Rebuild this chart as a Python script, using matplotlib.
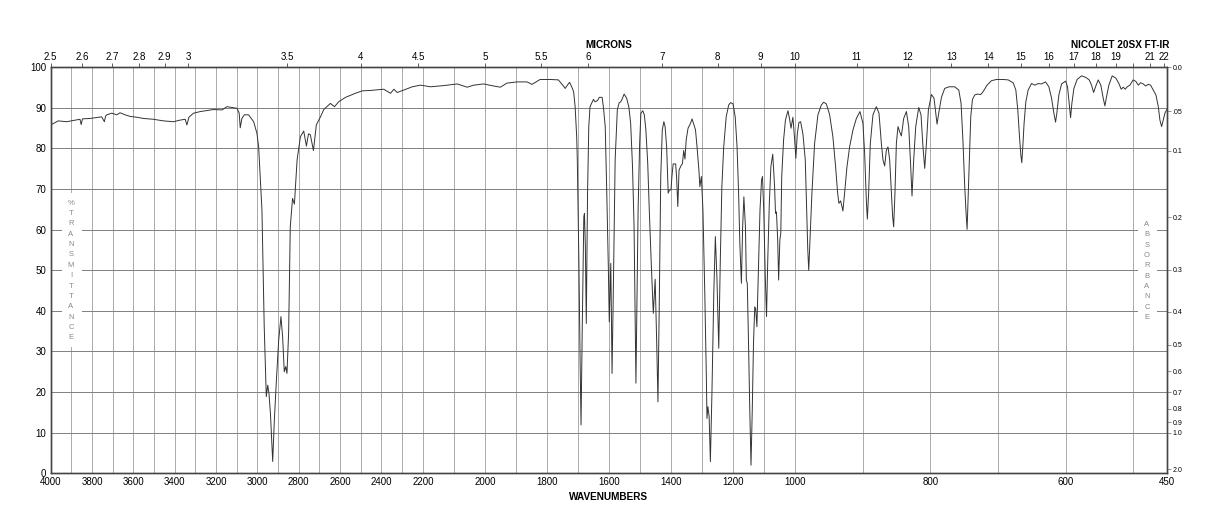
import numpy as np
import matplotlib.pyplot as plt
from matplotlib.patches import Rectangle

plt.rcParams['font.family'] = ['Liberation Sans', 'DejaVu Sans']

# spectrum (cm-1, %T)
wavenumber = [
    4000, 3963, 3922, 3890, 3858, 3852, 3846, 3809, 3753, 3740, 3734, 3728,
    3704, 3680, 3664, 3640, 3615, 3583, 3551, 3503, 3454, 3406, 3373, 3349,
    3341, 3331, 3309, 3276, 3212, 3171, 3147, 3099, 3088, 3083, 3075, 3063,
    3043, 3018, 3002, 2994, 2978, 2967, 2957, 2950, 2944, 2937, 2926, 2918,
    2908, 2897, 2886, 2878, 2870, 2863, 2857, 2849, 2841, 2830, 2821, 2808,
    2792, 2776, 2763, 2753, 2744, 2729, 2715, 2695, 2679, 2647, 2627, 2607,
    2574, 2550, 2526, 2493, 2453, 2389, 2356, 2340, 2324, 2292, 2251, 2211,
    2175, 2132, 2089, 2057, 2036, 2004, 1972, 1950, 1929, 1897, 1864, 1848,
    1822, 1789, 1763, 1749, 1741, 1734, 1727, 1720, 1714, 1709, 1704, 1702,
    1697, 1693, 1690, 1686, 1681, 1679, 1676, 1673, 1669, 1665, 1661, 1655,
    1650, 1645, 1637, 1631, 1622, 1618, 1612, 1607, 1602, 1599, 1594, 1590,
    1586, 1580, 1573, 1567, 1562, 1558, 1551, 1543, 1536, 1530, 1524, 1519,
    1515, 1513, 1510, 1506, 1501, 1497, 1491, 1486, 1481, 1475, 1470, 1464,
    1457, 1451, 1446, 1442, 1438, 1433, 1428, 1423, 1419, 1414, 1409, 1405,
    1400, 1397, 1393, 1385, 1382, 1378, 1374, 1368, 1363, 1359, 1355, 1351,
    1345, 1337, 1332, 1326, 1321, 1316, 1310, 1307, 1302, 1297, 1291, 1286,
    1284, 1281, 1277, 1273, 1268, 1262, 1257, 1252, 1246, 1241, 1236, 1230,
    1222, 1214, 1208, 1200, 1193, 1187, 1182, 1178, 1173, 1169, 1165, 1160,
    1157, 1154, 1150, 1146, 1142, 1138, 1134, 1130, 1127, 1123, 1118, 1113,
    1108, 1105, 1101, 1096, 1092, 1088, 1083, 1078, 1072, 1066, 1063, 1060,
    1056, 1053, 1049, 1046, 1043, 1037, 1031, 1023, 1018, 1013, 1007, 1002,
    998.8, 996.7, 994.3, 991.8, 988.4, 984.9, 982.8, 981.2, 979.8, 977.5,
    975.1, 971.1, 966.2, 961.2, 957.8, 953.8, 948.9, 944.1, 940.1, 937.1,
    935.2, 932.7, 930.7, 929.3, 926.8, 923.3, 919.4, 914.4, 909.4, 904.1,
    899.7, 897.2, 894.7, 893.2, 891.3, 888.8, 884.9, 879.9, 876.0, 872.5,
    870.1, 867.6, 865.1, 862.7, 860.2, 857.7, 855.8, 854.3, 852.4, 850.3,
    847.9, 845.4, 842.9, 839.5, 835.5, 832.1, 829.6, 827.2, 824.7, 821.7,
    817.3, 813.9, 811.0, 808.4, 805.9, 803.0, 798.5, 794.7, 792.1, 790.2,
    787.7, 783.7, 778.9, 772.5, 764.1, 758.1, 754.7, 751.8, 749.3, 747.3,
    745.8, 744.4, 742.3, 740.4, 737.9, 734.4, 730.5, 725.6, 722.2, 716.3,
    709.8, 702.4, 692.6, 685.2, 677.8, 673.8, 670.9, 668.4, 666.4, 665.0,
    663.5, 661.6, 659.0, 655.6, 650.6, 645.7, 640.8, 635.8, 629.9, 625.0,
    621.0, 617.6, 615.1, 613.2, 610.2, 606.2, 600.3, 597.4, 595.0, 592.9,
    591.0, 588.0, 583.2, 576.7, 570.3, 565.4, 561.9, 558.9, 556.0, 552.1,
    548.2, 544.7, 542.2, 539.7, 536.3, 531.4, 525.9, 521.5, 518.1, 515.1,
    512.2, 509.2, 505.3, 500.4, 496.3, 492.9, 489.4, 485.5, 482.0, 478.2,
    474.7, 470.8, 466.8, 463.3, 460.9, 458.4, 456.0, 453.5, 451.0, 450,
]
transmittance = [
    85.8, 86.8, 86.6, 86.9, 87.2, 85.9, 87.3, 87.4, 87.8, 86.6, 88.0, 88.3,
    88.7, 88.3, 88.8, 88.3, 87.9, 87.7, 87.4, 87.2, 86.8, 86.6, 87.0, 87.2,
    85.8, 87.7, 88.7, 89.1, 89.6, 89.5, 90.3, 89.9, 88.7, 85.1, 87.4, 88.3,
    88.3, 86.6, 83.7, 80.4, 64.9, 36.1, 18.9, 21.7, 19.7, 14.8, 2.9, 13.1,
    23.0, 32.8, 38.6, 33.6, 25.0, 26.3, 24.6, 34.5, 60.7, 67.7, 66.3, 77.2,
    82.9, 84.3, 80.6, 83.6, 83.4, 79.5, 85.8, 87.8, 89.6, 91.1, 90.3, 91.5,
    92.6, 93.1, 93.6, 94.2, 94.3, 94.6, 93.6, 94.6, 93.8, 94.4, 95.2, 95.6,
    95.2, 95.5, 95.9, 95.1, 95.6, 95.9, 95.4, 95.1, 96.1, 96.4, 96.4, 95.8,
    97.0, 97.0, 96.9, 95.6, 94.8, 95.6, 96.3, 95.2, 94.0, 90.3, 82.9, 77.2,
    52.5, 27.9, 11.9, 36.1, 63.2, 64.0, 55.8, 36.9, 69.0, 85.4, 90.3, 91.3,
    92.1, 91.5, 91.8, 92.6, 92.6, 90.3, 85.4, 69.0, 50.9, 37.3, 51.7, 24.6,
    44.3, 77.2, 89.5, 91.3, 91.5, 92.1, 93.4, 92.4, 90.3, 86.2, 75.5, 60.7,
    36.1, 22.2, 40.2, 64.9, 81.3, 88.7, 89.3, 88.3, 84.6, 76.4, 64.9, 52.5,
    39.4, 47.8, 32.0, 17.6, 40.2, 73.1, 84.6, 86.6, 85.4, 80.4, 69.0, 69.8,
    69.8, 73.1, 76.2, 76.2, 73.1, 65.7, 74.7, 75.7, 76.3, 79.5, 77.4, 82.1,
    85.0, 86.2, 87.3, 85.8, 84.6, 80.4, 74.7, 70.6, 73.1, 64.9, 44.3, 23.8,
    13.5, 16.4, 14.0, 2.9, 19.7, 44.3, 58.3, 48.4, 30.8, 52.5, 70.6, 80.4,
    87.8, 90.7, 91.3, 91.0, 87.8, 80.4, 69.0, 56.6, 46.8, 60.7, 68.1, 60.7,
    47.6, 46.8, 32.0, 15.6, 2.0, 15.6, 32.0, 41.0, 40.6, 36.1, 50.9, 64.9,
    72.2, 73.1, 64.9, 48.4, 38.6, 52.5, 66.5, 75.5, 78.6, 70.6, 64.0, 64.4,
    57.5, 47.6, 57.5, 59.1, 73.1, 82.1, 87.0, 89.3, 87.4, 85.0, 87.7, 82.9,
    77.6, 83.6, 86.4, 86.6, 83.6, 77.2, 64.9, 55.0, 50.0, 59.1,
    69.0, 81.3, 88.3, 90.7, 91.4, 91.0, 88.3, 82.9, 75.5, 69.0,
    66.5, 67.1, 65.7, 64.6, 69.0, 75.5, 80.4, 84.6, 87.4, 89.1,
    86.2, 78.8, 67.3, 62.6, 69.0, 81.3, 88.3, 90.3, 88.7, 81.3,
    77.2, 75.7, 79.6, 80.4, 77.2, 69.0, 63.2, 60.7, 69.0, 81.3,
    85.4, 84.1, 83.1, 87.4, 89.1, 85.4, 77.2, 68.3, 77.2, 85.4,
    90.1, 88.3, 80.4, 75.1, 81.3, 89.5, 93.3, 92.4, 88.7, 86.0,
    88.7, 92.6, 94.8, 95.2, 95.2, 94.4, 91.1, 81.3, 70.6, 64.0,
    60.1, 67.3, 78.8, 87.8, 92.1, 93.2, 93.4, 93.3, 94.0, 95.6,
    96.7, 97.0, 97.0, 96.9, 96.2, 94.4, 89.5, 82.9, 78.4, 76.5,
    80.4, 86.2, 91.5, 94.4, 96.0, 95.6, 96.0, 95.9, 96.4, 95.2,
    92.4, 88.7, 86.5, 88.7, 93.2, 95.9, 96.6, 95.2, 91.1, 87.6,
    91.1, 94.8, 97.0, 97.9, 97.5, 96.9, 95.6, 93.8, 95.2, 96.9,
    95.6, 92.4, 90.5, 92.8, 95.6, 97.9, 97.3, 96.0, 94.6, 95.1,
    94.6, 95.2, 95.6, 96.9, 96.5, 95.6, 96.2, 95.9, 95.4, 95.8,
    95.6, 94.4, 93.2, 90.3, 87.0, 85.4, 87.0, 88.7, 89.5, 89.7,
]

wn_ticks = [4000, 3800, 3600, 3400, 3200, 3000, 2800, 2600, 2400, 2200,
            2000, 1800, 1600, 1400, 1200, 1000, 800, 600, 450]
micron_ticks = [2.5, 2.6, 2.7, 2.8, 2.9, 3, 3.5, 4, 4.5, 5, 5.5, 6, 7, 8, 9,
                10, 11, 12, 13, 14, 15, 16, 17, 18, 19, 20, 21, 22]
micron_labels = ['2.5', '2.6', '2.7', '2.8', '2.9', '3', '3.5', '4', '4.5',
                 '5', '5.5', '6', '7', '8', '9', '10', '11', '12', '13', '14',
                 '15', '16', '17', '18', '19', '', '21', '22']
abs_ticks = [0.0, 0.05, 0.1, 0.2, 0.3, 0.4, 0.5, 0.6, 0.7, 0.8, 0.9, 1.0, 2.0]
abs_labels = ['0.0', '.05', '0.1', '0.2', '0.3', '0.4', '0.5', '0.6', '0.7',
              '0.8', '0.9', '1.0', '2.0']

# wavenumber axis is piecewise linear: 1000-450, 2200-1000, 4000-2200 each get a third
brk_wn = [450, 1000, 2200, 4000]
brk_pos = [0, 1, 2, 3]


def fwd(w):
    return np.interp(w, brk_wn, brk_pos)


def inv(p):
    return np.interp(p, brk_pos, brk_wn)


fig = plt.figure(figsize=(12.18, 5.28), dpi=100)
ax = fig.add_axes([0.04154, 0.10360, 0.91683, 0.76894])
ax.set_xscale('function', functions=(fwd, inv))
ax.set_xlim(4000, 450)
ax.set_ylim(0, 100)

ax.plot(wavenumber, transmittance, color='#333333', lw=0.7, zorder=3)

ax.xaxis.remove_overlapping_locs = False
ax.set_xticks(wn_ticks)
ax.set_xticklabels([str(t) for t in wn_ticks])
ax.set_xticks(np.arange(500, 4000, 100), minor=True)
ax.set_yticks(np.arange(0, 101, 10))
ax.grid(which='minor', axis='x', color='#aaaaaa', lw=0.7)
ax.grid(which='major', axis='y', color='#808080', lw=0.7)
ax.tick_params(axis='x', which='both', length=0, pad=3, labelsize=7)
ax.tick_params(axis='y', length=0, pad=3, labelsize=7)

# white strips behind the vertical axis names
ax.add_patch(Rectangle((0.0099, 0.312), 0.0179, 0.378, transform=ax.transAxes,
                       facecolor='white', edgecolor='none', zorder=2))
ax.add_patch(Rectangle((0.9740, 0.363), 0.0165, 0.273, transform=ax.transAxes,
                       facecolor='white', edgecolor='none', zorder=2))
for ch, yy in zip('%TRANSMITTANCE', np.linspace(66.5, 33.4, 14)):
    ax.text(0.0183, yy, ch, transform=ax.get_yaxis_transform(), ha='center',
            va='center', fontsize=5.5, color='#888888', zorder=4)
for ch, yy in zip('ABSORBANCE', np.linspace(61.3, 38.4, 10)):
    ax.text(0.9818, yy, ch, transform=ax.get_yaxis_transform(), ha='center',
            va='center', fontsize=5.5, color='#888888', zorder=4)

top = ax.twiny()
top.set_xscale('function', functions=(fwd, inv))
top.set_xlim(4000, 450)
top.set_xticks([10000 / m for m in micron_ticks])
top.set_xticklabels(micron_labels)
top.tick_params(axis='x', length=3, width=0.6, color='#444444', pad=1, labelsize=7)

right = ax.twinx()
right.set_ylim(0, 100)
right.set_yticks([100 * 10 ** (-a) for a in abs_ticks])
right.set_yticklabels(abs_labels)
right.tick_params(axis='y', length=3, width=0.5, color='#666666', pad=1, labelsize=5)

for a in (ax, top, right):
    for s in a.spines.values():
        s.set_color('#444444')
        s.set_linewidth(0.9)

fig.text(0.5, 0.0581, 'WAVENUMBERS', ha='center', va='center',
         fontsize=7.2, fontweight='bold')
fig.text(0.5, 0.9148, 'MICRONS', ha='center', va='center',
         fontsize=7.2, fontweight='bold')
fig.text(0.9600, 0.9148, 'NICOLET 20SX FT-IR', ha='right', va='center',
         fontsize=7.2, fontweight='bold')

fig.savefig('out.png', dpi=100)
